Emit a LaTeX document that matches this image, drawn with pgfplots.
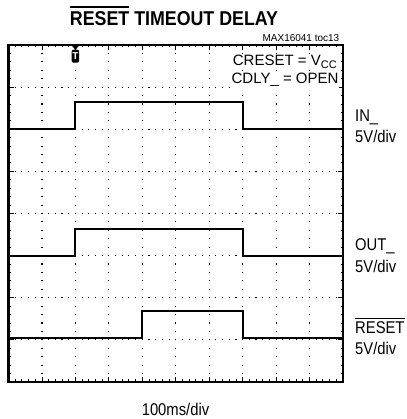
\documentclass[border=0pt]{standalone}
\usepackage{fontspec}
\setmainfont{Liberation Sans}
\newfontfamily\narrowfont[FakeStretch=0.87]{Liberation Sans}
\newfontfamily\titlefont[FakeStretch=0.89]{Liberation Sans}
\usepackage{pgfplots}
\pgfplotsset{compat=1.18}
\newcommand\ovl[3]{\begingroup\setbox0\hbox{#3}\rlap{\rule[\dimexpr\ht0+#1\relax]{\wd0}{#2}}\box0\endgroup}
\begin{document}
\begin{tikzpicture}[x=1pt,y=1pt]
\useasboundingbox (0,0) rectangle (406,419);
\begin{axis}[
  at={(8.5pt,37pt)}, anchor=south west,
  scale only axis, width=334.5pt, height=337pt,
  xmin=0, xmax=10, ymin=0, ymax=8,
  xtick={0,1,...,10}, ytick={0,1,...,8},
  minor x tick num=4, minor y tick num=4,
  xticklabels={}, yticklabels={},
  tick align=inside, tick pos=both,
  major tick length=5pt, minor tick length=2.5pt,
  tick style={black, line width=0.9pt},
  xmajorgrids=true, ymajorgrids=true,
  major x grid style={black, line width=1.1pt, dash pattern=on 1.1pt off 7.325pt, dash phase=0.55pt},
  major y grid style={black, line width=1.1pt, dash pattern=on 1.1pt off 5.59pt, dash phase=0.55pt},
  axis line style={line width=2.2pt},
]
\addplot[black, line width=2.1pt] coordinates {(0,6.0) (2,6.0) (2,6.64) (7,6.64) (7,6.0) (10,6.0)};
\addplot[black, line width=2.1pt] coordinates {(0,3.0) (2,3.0) (2,3.64) (7,3.64) (7,3.0) (10,3.0)};
\addplot[black, line width=2.1pt] coordinates {(0,1.05) (4,1.05) (4,1.68) (7,1.68) (7,1.05) (10,1.05)};
\fill[black] (axis cs:2,8) ++(-3.3pt,-1pt) -- ++(6.6pt,0) -- ++(-3.3pt,-4pt) -- cycle;
\node[fill=black, text=white, rounded corners=2pt, minimum width=7.5pt, minimum height=13pt, inner sep=0, anchor=north, font=\bfseries\fontsize{10}{10}\selectfont] at ([yshift=-4.5pt]axis cs:2,8) {T};
\end{axis}
\node[anchor=base, font=\titlefont\bfseries\fontsize{20}{20}\selectfont] at (174,393) {\ovl{4.5pt}{1.4pt}{RESET} TIMEOUT DELAY};
\node[anchor=base east, inner sep=0, font=\fontsize{10}{10}\selectfont] at (339.5,377.5) {MAX16041 toc13};
\node[anchor=base east, fill=white, inner sep=0.6pt, font=\fontsize{15}{15}\selectfont] at (337.5,353) {CRESET = V\raisebox{-2.3pt}{\fontsize{11}{11}\selectfont CC}};
\node[anchor=base east, fill=white, inner sep=0.6pt, font=\fontsize{15}{15}\selectfont] at (339.3,335) {CDLY\_ = OPEN};
\begin{scope}[every node/.style={anchor=base west, inner sep=0, font=\narrowfont\fontsize{17}{17}\selectfont}]
\node at (355,297) {IN\_};
\node at (355,276) {5V/div};
\node at (355,168) {OUT\_};
\node at (355,146.7) {5V/div};
\node at (355,85) {\ovl{3pt}{1.2pt}{RESET}};
\node at (355,64) {5V/div};
\end{scope}
\node[anchor=base, inner sep=0, font=\narrowfont\fontsize{17}{17}\selectfont] at (175.5,4) {100ms/div};
\end{tikzpicture}
\end{document}
